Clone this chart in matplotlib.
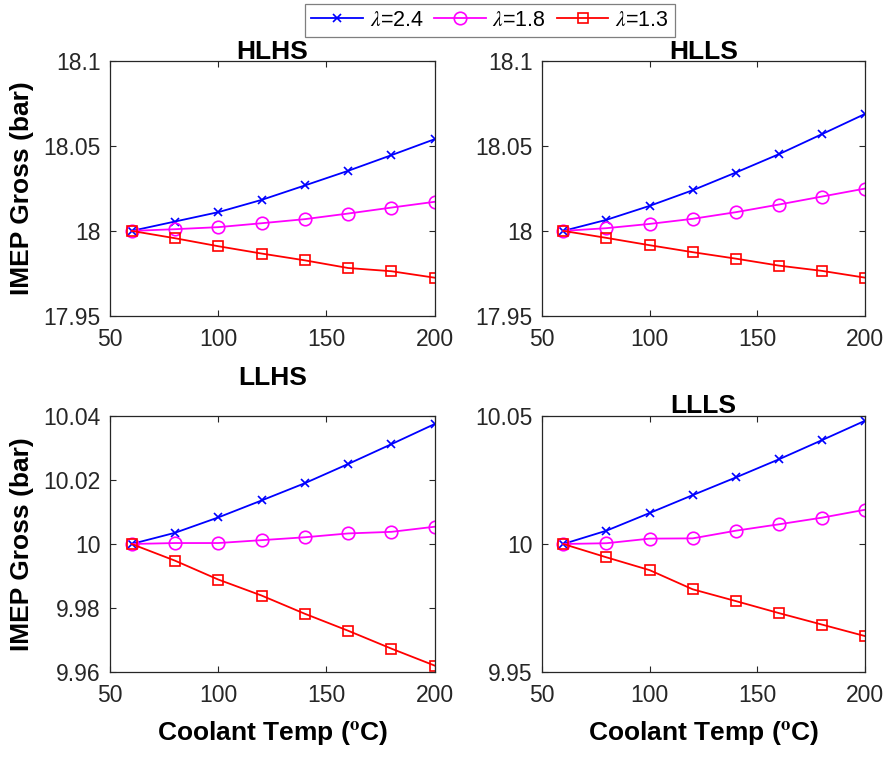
import matplotlib
matplotlib.use("Agg")
import matplotlib.pyplot as plt
from matplotlib.ticker import FuncFormatter

plt.rcParams['font.family'] = ['Liberation Sans', 'DejaVu Sans']
plt.rcParams['mathtext.fontset'] = 'stix'

temps = [60, 80, 100, 120, 140, 160, 180, 200]
series_labels = [r'$\lambda$=2.4', r'$\lambda$=1.8', r'$\lambda$=1.3']

hlhs_l24 = [18.0, 18.0055, 18.011, 18.0182, 18.0267, 18.0353, 18.0445, 18.0539]
hlhs_l18 = [18.0, 18.001, 18.0022, 18.0045, 18.0069, 18.0102, 18.0137, 18.0171]
hlhs_l13 = [18.0, 17.9957, 17.991, 17.9867, 17.9827, 17.9782, 17.9763, 17.9725]

hlls_l24 = [18.0, 18.0065, 18.0147, 18.0239, 18.0343, 18.0451, 18.0569, 18.0688]
hlls_l18 = [18.0, 18.0016, 18.0041, 18.0071, 18.011, 18.0155, 18.0202, 18.0249]
hlls_l13 = [18.0, 17.9959, 17.9916, 17.9875, 17.9837, 17.9796, 17.9765, 17.9725]

llhs_l24 = [10.0, 10.0035, 10.0083, 10.0136, 10.019, 10.025, 10.0312, 10.0375]
llhs_l18 = [10.0, 10.0003, 10.0003, 10.0012, 10.0021, 10.0033, 10.0038, 10.0054]
llhs_l13 = [10.0, 9.9948, 9.9889, 9.9839, 9.9782, 9.9729, 9.9673, 9.962]

llls_l24 = [10.0, 10.0052, 10.0121, 10.0191, 10.026, 10.0331, 10.0406, 10.0482]
llls_l18 = [10.0, 10.0003, 10.0021, 10.0022, 10.0052, 10.0077, 10.0103, 10.0134]
llls_l13 = [10.0, 9.9948, 9.9898, 9.9823, 9.9777, 9.973, 9.9685, 9.964]

titles = ['HLHS', 'HLLS', 'LLHS', 'LLLS']
xticks = [50, 100, 150, 200]
yticks_top = [17.95, 18.0, 18.05, 18.1]
yticks_llhs = [9.96, 9.98, 10.0, 10.02, 10.04]
yticks_llls = [9.95, 10.0, 10.05]

W, H = 887, 757
fig = plt.figure(figsize=(W / 100, H / 100), dpi=100)

def rect(l, t, r, b):
    return [l / W, 1 - b / H, (r - l) / W, (b - t) / H]

axes = [
    fig.add_axes(rect(110, 60.7, 434.7, 316)),
    fig.add_axes(rect(541.7, 60.7, 865.3, 316)),
    fig.add_axes(rect(110, 416, 434.7, 672)),
    fig.add_axes(rect(541.7, 416, 865.3, 672)),
]

data = [
    (hlhs_l24, hlhs_l18, hlhs_l13, yticks_top),
    (hlls_l24, hlls_l18, hlls_l13, yticks_top),
    (llhs_l24, llhs_l18, llhs_l13, yticks_llhs),
    (llls_l24, llls_l18, llls_l13, yticks_llls),
]
title_pads = [1, 1, 22, 2]
fmt = FuncFormatter(lambda v, p: ('%.4f' % v).rstrip('0').rstrip('.'))
dark = '#262626'
handles = None
for i, (ax, (a, b, c, yt)) in enumerate(zip(axes, data)):
    h1, = ax.plot(temps, a, color='blue', marker='x', ms=6, mew=1.2, lw=1.3)
    h2, = ax.plot(temps, b, color='magenta', marker='o', ms=9, mfc='none', mew=1.2, lw=1.3)
    h3, = ax.plot(temps, c, color='red', marker='s', ms=6.5, mfc='none', mew=1.2, lw=1.3)
    if handles is None:
        handles = [h1, h2, h3]
    ax.set_xlim(50, 200)
    ax.set_ylim(yt[0], yt[-1])
    ax.set_xticks(xticks)
    ax.set_yticks(yt)
    ax.yaxis.set_major_formatter(fmt)
    ax.tick_params(direction='in', length=4, width=0.8, top=True, right=True,
                   labelsize=16.5, colors=dark, labelcolor=dark)
    ax.tick_params(axis='x', pad=9)
    ax.tick_params(axis='y', pad=6.5)
    for s in ax.spines.values():
        s.set_color(dark)
        s.set_linewidth(0.9)
    ax.set_title(titles[i], fontsize=19, fontweight='bold', pad=title_pads[i])
    if i in (0, 2):
        ax.set_ylabel('IMEP Gross (bar)', fontsize=19, fontweight='bold')
    if i in (2, 3):
        ax.set_xlabel(r'Coolant Temp ($^\mathbf{o}$C)', fontsize=19, fontweight='bold', labelpad=8)

for ax in (axes[0], axes[2]):
    ax.yaxis.set_label_coords(-0.235, 0.5)

leg = fig.legend(handles, series_labels, loc='center', ncol=3,
                 bbox_to_anchor=(490 / W, 1 - 20.5 / H), fontsize=15.5,
                 fancybox=False, edgecolor='#7f7f7f', framealpha=1,
                 handlelength=2.4, handletextpad=0.3, columnspacing=0.5,
                 borderpad=0.3, borderaxespad=0)
leg.get_frame().set_linewidth(0.9)

fig.savefig('out.png', dpi=100)
